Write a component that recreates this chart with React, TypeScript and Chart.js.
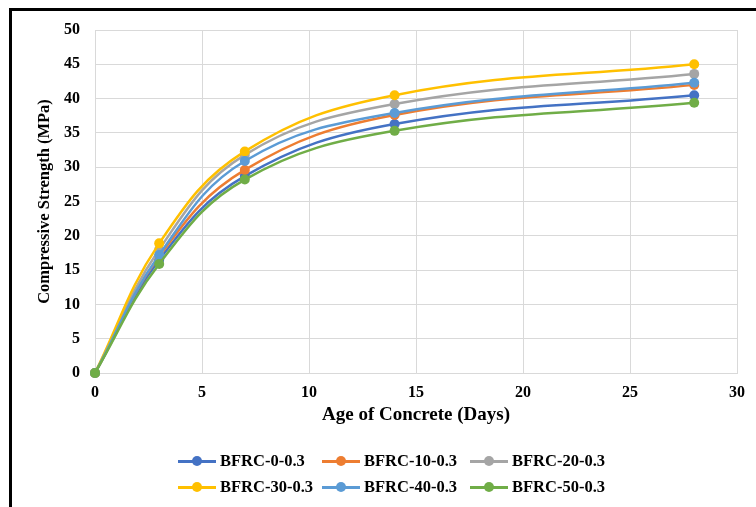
import React, { useEffect, useRef } from "react";
import { Chart, registerables } from "chart.js";

Chart.register(...registerables);

const ages = [0, 3, 7, 14, 28];
const seriesNames = ["BFRC-0-0.3", "BFRC-10-0.3", "BFRC-20-0.3", "BFRC-30-0.3", "BFRC-40-0.3", "BFRC-50-0.3"];
const bfrc0 = [0, 16.5, 28.7, 36.3, 40.5];
const bfrc10 = [0, 17.0, 29.6, 37.6, 42.0];
const bfrc20 = [0, 18.0, 31.8, 39.2, 43.6];
const bfrc30 = [0, 18.9, 32.3, 40.5, 45.0];
const bfrc40 = [0, 17.2, 30.9, 37.9, 42.3];
const bfrc50 = [0, 15.9, 28.2, 35.3, 39.4];
const seriesColors = ["#4472C4", "#ED7D31", "#A5A5A5", "#FFC000", "#5B9BD5", "#70AD47"];
const legendOrder = [0, 1, 2, 3, 4, 5];

const FONT = "'Liberation Serif', 'Times New Roman', serif";

export default function App() {
  const ref = useRef<HTMLCanvasElement>(null);
  useEffect(() => {
    const all = [bfrc0, bfrc10, bfrc20, bfrc30, bfrc40, bfrc50];
    const datasets = all.map((vals, i) => ({
      label: seriesNames[i],
      data: ages.map((a, j) => ({ x: a, y: vals[j] })),
      borderColor: seriesColors[i],
      backgroundColor: seriesColors[i],
      borderWidth: 2.5,
      pointRadius: 5,
      pointHoverRadius: 5,
      pointBorderWidth: 0,
      showLine: true,
      tension: 0.4,
      clip: false as any,
      order: 6 - i,
    }));
    const chart = new Chart(ref.current!, {
      type: "scatter",
      data: { datasets },
      options: {
        animation: false,
        responsive: false,
        maintainAspectRatio: false,
        layout: { padding: { top: 22, right: 11, bottom: 0, left: 0 } },
        plugins: { legend: { display: false }, tooltip: { enabled: false } },
        scales: {
          x: {
            type: "linear",
            min: 0,
            max: 30,
            ticks: { stepSize: 5, padding: 10, color: "#000", font: { family: FONT, size: 16, weight: "bold" } },
            grid: { color: "#d9d9d9", lineWidth: 1, drawTicks: false },
            border: { color: "#d9d9d9" },
            title: {
              display: true,
              text: "Age of Concrete (Days)",
              color: "#000",
              font: { family: FONT, size: 19, weight: "bold" },
              padding: { top: 0, bottom: 12 },
            },
            afterFit: (s: any) => { s.height = 65; s.paddingLeft = 0; s.paddingRight = 0; },
          },
          y: {
            type: "linear",
            min: 0,
            max: 50,
            ticks: { stepSize: 5, padding: 15, color: "#000", font: { family: FONT, size: 16, weight: "bold" } },
            grid: { color: "#d9d9d9", lineWidth: 1, drawTicks: false },
            border: { color: "#d9d9d9" },
            title: {
              display: true,
              text: "Compressive Strength (MPa)",
              color: "#000",
              font: { family: FONT, size: 16.5, weight: "bold" },
              padding: { top: 27, bottom: 0 },
            },
            afterFit: (s: any) => { s.width = 87; s.paddingTop = 0; s.paddingBottom = 0; },
          },
        },
      },
    });
    return () => chart.destroy();
  }, []);

  const cols = [170, 314, 462];
  return (
    <div style={{ position: "relative", width: 740, height: 491 }}>
      <div style={{ position: "fixed", left: 9, top: 8, width: 900, height: 700, borderTop: "3px solid #000", borderLeft: "3px solid #000", boxSizing: "border-box" }} />
      <canvas ref={ref} width={740} height={430} style={{ position: "absolute", left: 0, top: 0, width: 740, height: 430 }} />
      {legendOrder.map((i, k) => {
        const row = Math.floor(k / 3);
        const col = k % 3;
        return (
          <div key={i} style={{ position: "absolute", left: cols[col], top: 444 + row * 26, height: 18, display: "flex", alignItems: "center" }}>
            <div style={{ position: "relative", width: 38, height: 18 }}>
              <div style={{ position: "absolute", left: 0, top: 8, width: 38, height: 2.5, background: seriesColors[i] }} />
              <div style={{ position: "absolute", left: 14, top: 4, width: 10, height: 10, borderRadius: 5, background: seriesColors[i] }} />
            </div>
            <span style={{ marginLeft: 4, fontFamily: FONT, fontWeight: "bold", fontSize: 16.5, color: "#000", whiteSpace: "nowrap" }}>{seriesNames[i]}</span>
          </div>
        );
      })}
    </div>
  );
}
